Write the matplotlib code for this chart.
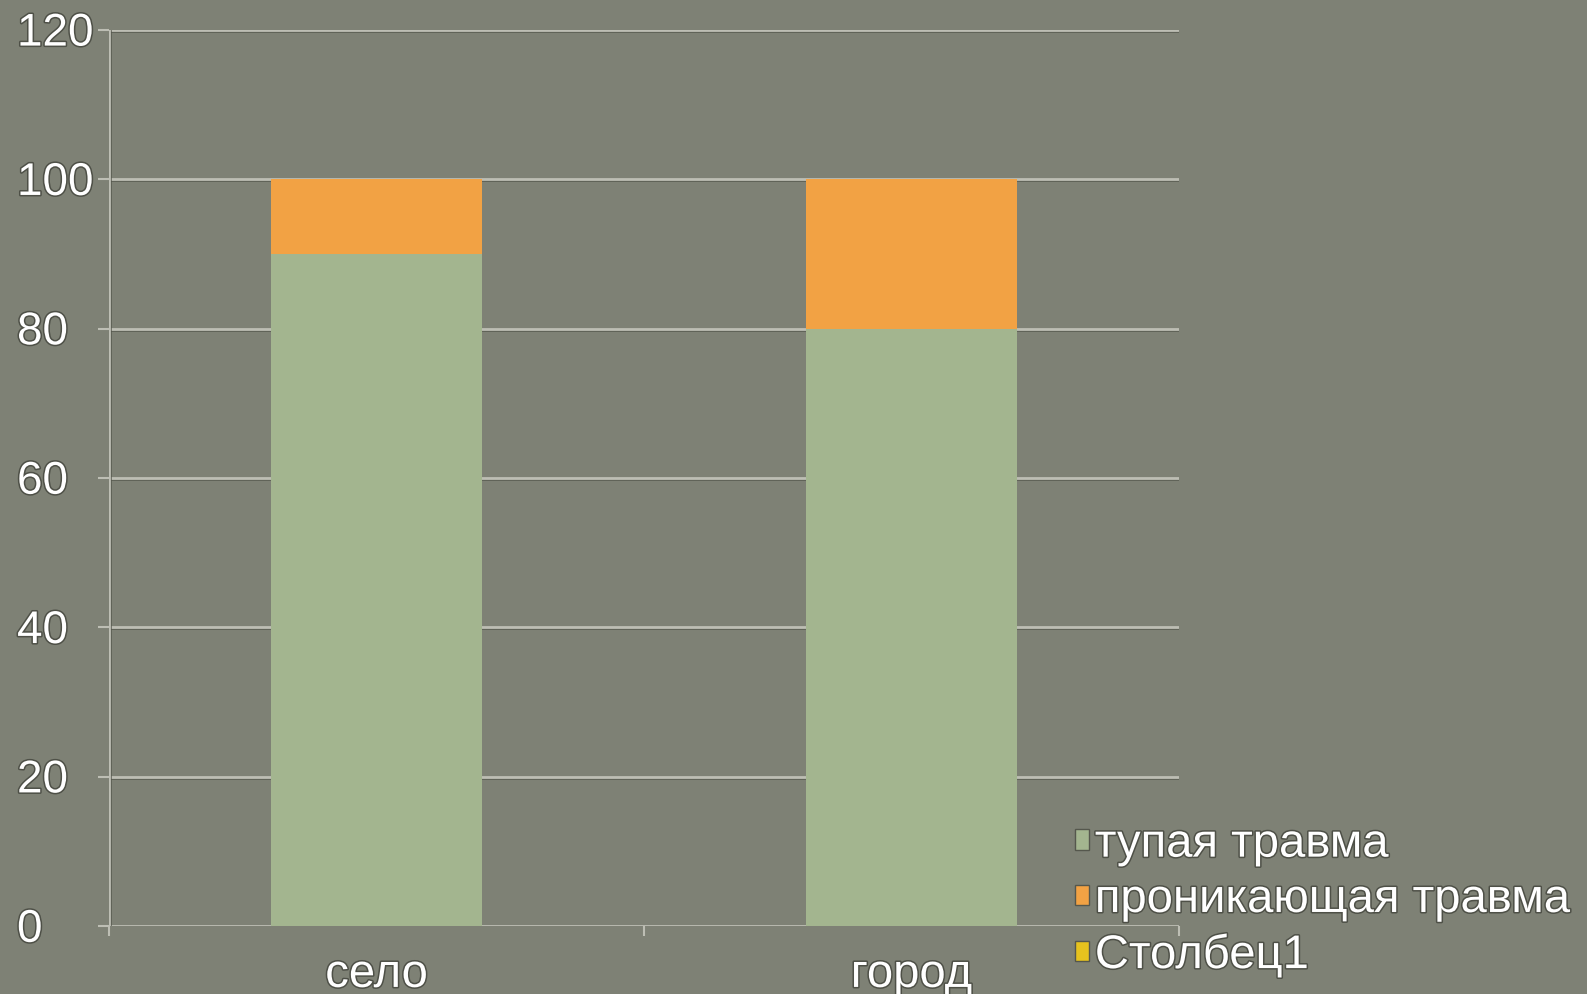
import matplotlib.pyplot as plt
import matplotlib.patheffects as pe
from matplotlib.patches import Patch
from matplotlib.transforms import blended_transform_factory

categories = ["село", "город"]
blunt = [90, 80]
penetrating = [10, 20]
column1 = [0, 0]
series_names = ["тупая травма", "проникающая травма", "Столбец1"]
y_ticks = [0, 20, 40, 60, 80, 100, 120]

BG = "#7e8175"
GREEN = "#a3b58f"
ORANGE = "#f2a244"
YELLOW = "#e6c21e"
GRID = "#bdbeb4"
TEXT_FX = [pe.withStroke(linewidth=2.2, foreground="#4e5047")]
LINE_FX = [pe.SimpleLineShadow(offset=(0.8, -0.8), shadow_color="#55574d", alpha=0.8), pe.Normal()]

plt.rcParams["font.family"] = ["Liberation Sans", "DejaVu Sans"]

fig = plt.figure(figsize=(15.87, 9.95), dpi=100, facecolor=BG)
ax = fig.add_axes([0.0687, 0.0683, 0.6743, 0.9007])
ax.set_facecolor(BG)

x = range(len(categories))
ax.bar(x, blunt, width=0.395, color=GREEN, zorder=3)
ax.bar(x, penetrating, bottom=blunt, width=0.395, color=ORANGE, zorder=3)
ax.bar(x, column1, bottom=[b + p for b, p in zip(blunt, penetrating)], width=0.395,
       color=YELLOW, zorder=3)

ax.set_xlim(-0.5, 1.5)
ax.set_ylim(0, 120)

for v in y_ticks:
    ax.axhline(v, color=GRID, lw=2, zorder=1, path_effects=LINE_FX)
ax.axvline(-0.5, color=GRID, lw=2, zorder=1, path_effects=LINE_FX)

for s in ax.spines.values():
    s.set_visible(False)

ax.set_yticks(y_ticks)
ax.set_yticklabels([])
ax.tick_params(axis="y", length=8, width=1.5, color=GRID)
ax.set_xticks([-0.5, 0.5, 1.5])
ax.set_xticklabels([])
ax.tick_params(axis="x", length=7, width=1.5, color=GRID, direction="out")

tr = blended_transform_factory(fig.transFigure, ax.transData)
for v in y_ticks:
    ax.text(17 / 1587, v - 0.5, str(v), transform=tr, ha="left", va="center",
            fontsize=33, color="white", path_effects=TEXT_FX, clip_on=False)

for i, c in enumerate(categories):
    ax.text(i, -3.6, c, ha="center", va="top", fontsize=34, color="white",
            path_effects=TEXT_FX, clip_on=False)

handles = [Patch(facecolor=col, edgecolor="#55574d", linewidth=1)
           for col in (GREEN, ORANGE, YELLOW)]
leg = fig.legend(handles, series_names, loc="lower left",
                 bbox_to_anchor=(1075 / 1587, 0.016), frameon=False,
                 fontsize=34, handlelength=0.3, handleheight=0.3,
                 handletextpad=0.12, labelspacing=0.24, borderpad=0,
                 borderaxespad=0)
for t in leg.get_texts():
    t.set_color("white")
    t.set_path_effects(TEXT_FX)

fig.savefig("out.png", dpi=100, facecolor=BG)
